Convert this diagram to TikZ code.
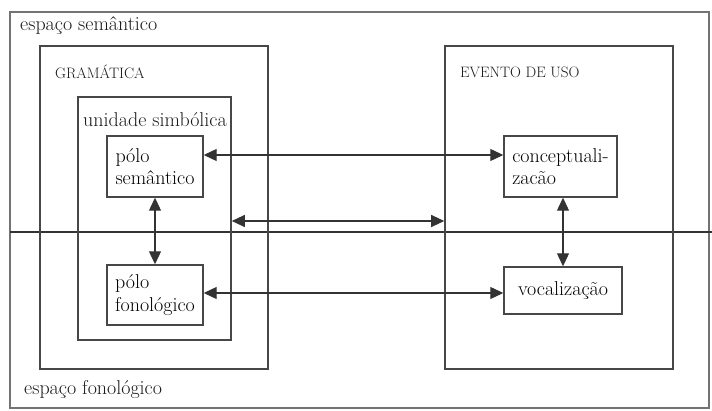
\documentclass[tikz,border=0pt]{standalone}
\usetikzlibrary{arrows.meta}
\tikzset{
  frame/.style={draw=black!72, line width=1.6pt, inner sep=0pt},
  polebox/.style={frame, line width=1.4pt, align=left, inner sep=0pt},
  tag/.style={anchor=west, inner sep=0pt, text=black!90},
  dbl/.style={{Triangle[length=13pt,width=12pt]}-{Triangle[length=13pt,width=12pt]}, line width=1.1pt, draw=black!80},
}
\begin{document}
\begin{tikzpicture}[x=1pt,y=-1pt,font=\rmfamily\fontsize{20}{22.5}\selectfont]
			%%%%% START %%%%%
			\useasboundingbox (0,0) rectangle (712,411);
			
			% outer frame and the line between the two spaces
			\draw[draw=black!55, line width=1.8pt] (10,12) rectangle (709,408);
			\draw[line width=1.1pt, draw=black!80] (10,232) -- (712,232);
			\node[tag] (semsp) at (20,26) {espaço semântico};
			\node[tag] (fonsp) at (24,390) {espaço fonológico};
			
			% grammar side
			\node[frame, minimum width=228, minimum height=323] (gram) at (154,207.5) {};
			\node[tag, font=\rmfamily\fontsize{15.1}{18}\selectfont] (gramlbl) at (55,72) {GRAMÁTICA};
			\node[frame, minimum width=153, minimum height=243] (unid) at (154.5,218.5) {};
			\node[tag] (unidlbl) at (83,120) {unidade simbólica};
			\node[polebox, minimum width=96, minimum height=61] (polsem) at (155,166.5) {pólo\\semântico};
			\node[polebox, minimum width=96, minimum height=60] (polfon) at (155,295) {pólo\\fonológico};
			
			% usage event side
			\node[frame, minimum width=228, minimum height=323] (evento) at (559,207.5) {};
			\node[tag, font=\rmfamily\fontsize{15.1}{18}\selectfont] (eventolbl) at (460,72) {EVENTO DE USO};
			\node[polebox, minimum width=113, minimum height=61] (concept) at (560.5,166.5) {conceptuali-\\zacão};
			\node[polebox, minimum width=118, minimum height=47] (vocal) at (563,290.5) {vocalização};
			
			% arrows
			\draw[dbl] ([yshift=11.5pt]polsem.east) -- ([yshift=11.5pt]polsem.east -| concept.west);
			\draw[dbl] (unid.east |- 0,221) -- (evento.west |- 0,221);
			\draw[dbl] (polfon.east |- 0,293) -- (vocal.west |- 0,293);
			\draw[dbl] (polsem.south) -- (polfon.north);
			\draw[dbl] (vocal.north |- concept.south) -- (vocal.north);
			
			%%%%% END %%%%%
\end{tikzpicture}
\end{document}
